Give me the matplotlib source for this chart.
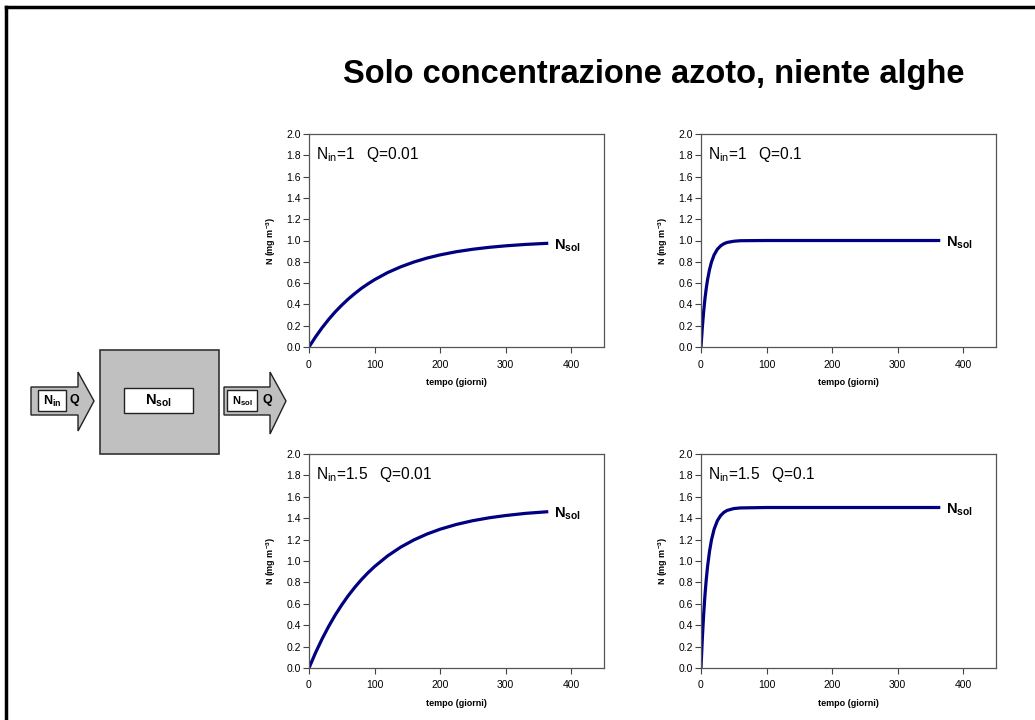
import matplotlib
matplotlib.use("Agg")
import matplotlib.pyplot as plt
from matplotlib.patches import Rectangle, Polygon
from matplotlib.lines import Line2D

plt.rcParams['font.family'] = ['Liberation Sans', 'DejaVu Sans']
plt.rcParams['mathtext.fontset'] = 'custom'
plt.rcParams['mathtext.rm'] = 'Liberation Sans'
plt.rcParams['mathtext.it'] = 'Liberation Sans:italic'
plt.rcParams['mathtext.bf'] = 'Liberation Sans:bold'

# ---------------- data ----------------
title = "Solo concentrazione azoto, niente alghe"
x_label = "tempo (giorni)"
y_label = r"N (mg m$^{\mathbf{-3}}$)"
x_ticks = [0, 100, 200, 300, 400]
y_ticks = [0.0, 0.2, 0.4, 0.6, 0.8, 1.0, 1.2, 1.4, 1.6, 1.8, 2.0]

days_slow = [0, 10, 20, 30, 40, 50, 60, 70, 80, 90, 100, 120, 140, 160, 180,
             200, 225, 250, 275, 300, 330, 365]
n_slow_1 = [0.0, 0.095, 0.181, 0.259, 0.330, 0.393, 0.451, 0.503, 0.551, 0.593,
            0.632, 0.699, 0.753, 0.798, 0.835, 0.865, 0.895, 0.918, 0.936, 0.950,
            0.963, 0.974]
n_slow_15 = [0.0, 0.143, 0.272, 0.389, 0.495, 0.590, 0.677, 0.755, 0.826, 0.890,
             0.948, 1.048, 1.130, 1.197, 1.252, 1.297, 1.342, 1.377, 1.404, 1.425,
             1.445, 1.461]

days_fast = [0, 2, 4, 6, 8, 10, 13, 16, 20, 25, 30, 35, 40, 50, 60, 100, 150,
             200, 250, 300, 365]
n_fast_1 = [0.0, 0.181, 0.330, 0.451, 0.551, 0.632, 0.727, 0.798, 0.865, 0.918,
            0.950, 0.970, 0.982, 0.993, 0.998, 1.0, 1.0, 1.0, 1.0, 1.0, 1.0]
n_fast_15 = [0.0, 0.272, 0.495, 0.677, 0.826, 0.948, 1.091, 1.197, 1.297, 1.377,
             1.425, 1.455, 1.473, 1.490, 1.496, 1.5, 1.5, 1.5, 1.5, 1.5, 1.5]

panel_titles = [r"N$_{\mathrm{in}}$=1   Q=0.01", r"N$_{\mathrm{in}}$=1   Q=0.1",
                r"N$_{\mathrm{in}}$=1.5   Q=0.01", r"N$_{\mathrm{in}}$=1.5   Q=0.1"]
panel_days = [days_slow, days_fast, days_slow, days_fast]
panel_vals = [n_slow_1, n_fast_1, n_slow_15, n_fast_15]
series_label = r"$\mathbf{N}_{\mathbf{sol}}$"

# ---------------- figure ----------------
W, H = 1035, 720
fig = plt.figure(figsize=(W / 100, H / 100), dpi=100)
fig.patch.set_facecolor('white')

def px_axes(x0, y0, x1, y1):
    return fig.add_axes([x0 / W, 1 - y1 / H, (x1 - x0) / W, (y1 - y0) / H])

# background overlay for drawing in pixel coordinates
bg = fig.add_axes([0, 0, 1, 1])
bg.set_xlim(0, W)
bg.set_ylim(H, 0)
bg.axis('off')

# slide frame (top and left visible)
bg.add_line(Line2D([6, W + 5], [7, 7], color='black', lw=2.5))
bg.add_line(Line2D([6, 6], [7, H + 5], color='black', lw=2.5))

bg.text(654, 75, title, ha='center', va='center', fontsize=23.5,
        fontweight='bold')

# ---- schematic diagram ----
gray = '#c0c0c0'
def arrow(x0, xb, xt, yb0, yb1, yh0, yh1):
    ym = (yb0 + yb1) / 2
    pts = [(x0, yb0), (xb, yb0), (xb, yh0), (xt, ym), (xb, yh1), (xb, yb1), (x0, yb1)]
    bg.add_patch(Polygon(pts, closed=True, facecolor=gray, edgecolor='#222222', lw=1.0))

arrow(31, 78, 94, 387, 415, 372, 431)
bg.add_patch(Rectangle((38, 390), 28, 21, facecolor='white', edgecolor='#222222', lw=1.0))
bg.text(52, 401, r"$\mathbf{N}_{\mathbf{in}}$", ha='center', va='center', fontsize=9)
bg.text(74, 400, "Q", ha='center', va='center', fontsize=9, fontweight='bold')

bg.add_patch(Rectangle((100, 350), 119, 104, facecolor=gray, edgecolor='#333333', lw=1.2))
bg.add_patch(Rectangle((124, 388), 69, 25, facecolor='white', edgecolor='#222222', lw=1.0))
bg.text(158, 401, r"$\mathbf{N}_{\mathbf{sol}}$", ha='center', va='center', fontsize=10.5)

arrow(224, 270, 286, 387, 415, 372, 434)
bg.add_patch(Rectangle((227, 390), 30, 21, facecolor='white', edgecolor='#222222', lw=1.0))
bg.text(242, 401, r"$\mathbf{N}_{\mathbf{sol}}$", ha='center', va='center', fontsize=8)
bg.text(267, 400, "Q", ha='center', va='center', fontsize=9, fontweight='bold')

# ---- panels ----
boxes = [(309, 134, 604, 347), (701, 134, 996, 347),
         (309, 454, 604, 668), (701, 454, 996, 668)]
for i, (b, ttl, d, v) in enumerate(zip(boxes, panel_titles, panel_days, panel_vals)):
    ax = px_axes(*b)
    ax.plot(d, v, color='#000080', lw=2.3, solid_capstyle='butt')
    ax.set_xlim(0, 450)
    ax.set_ylim(0, 2.0)
    ax.set_xticks(x_ticks)
    ax.set_yticks(y_ticks)
    ax.set_yticklabels([f"{t:.1f}" for t in y_ticks])
    ax.tick_params(direction='out', length=4, width=0.8, labelsize=7.5,
                   colors='#444444', labelcolor='black', pad=2)
    ax.tick_params(axis='x', pad=5)
    for s in ax.spines.values():
        s.set_color('#555555')
        s.set_linewidth(0.9)
    ax.text(0.025, 0.95, ttl, transform=ax.transAxes, ha='left', va='top',
            fontsize=11.2)
    ax.text(374, v[-1] - 0.02, series_label, ha='left', va='center', fontsize=10.5)
    ax.set_ylabel(y_label, fontsize=6.5, fontweight='bold', labelpad=6)
    ax.set_xlabel(x_label, fontsize=6.5, fontweight='bold', labelpad=6)

fig.savefig("out.png", dpi=100, facecolor='white')
